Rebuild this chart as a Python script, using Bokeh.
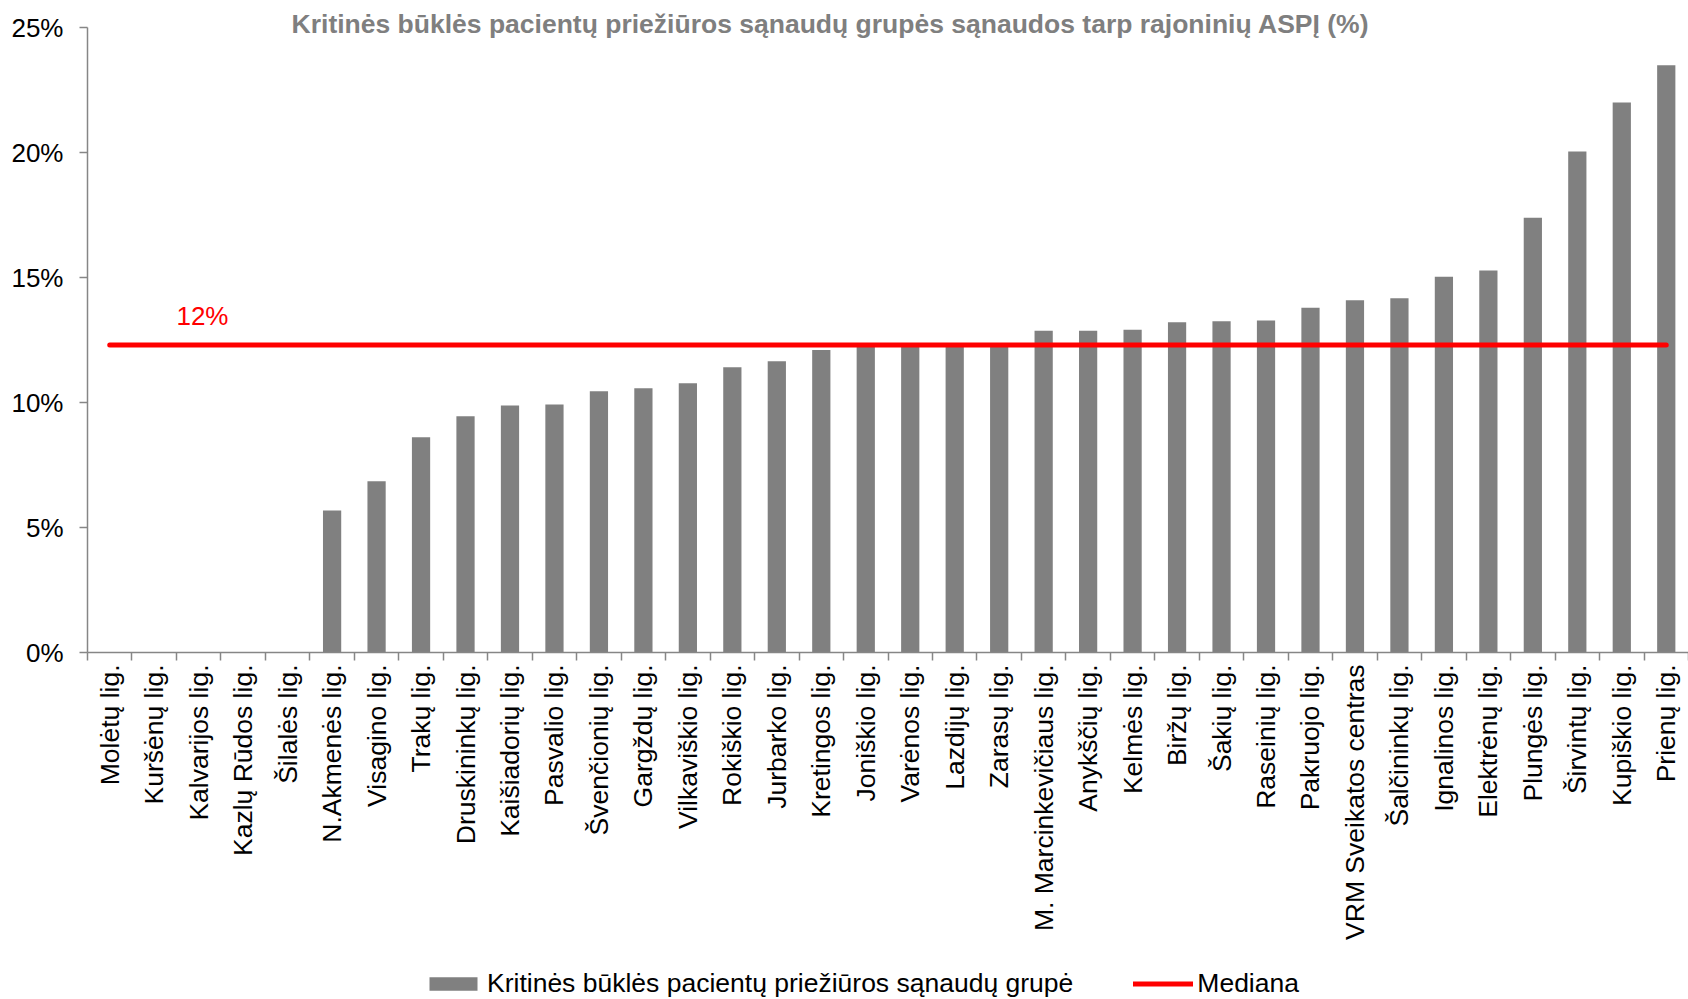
import math
from bokeh.plotting import figure
from bokeh.layouts import column
from bokeh.models import (Range1d, LinearAxis, FixedTicker, Legend, LegendItem, Label, ColumnDataSource)
from bokeh.embed import file_html
from bokeh.resources import INLINE

categories = [
    "Molėtų lig.", "Kuršėnų lig.", "Kalvarijos lig.", "Kazlų Rūdos lig.", "Šilalės lig.",
    "N.Akmenės lig.", "Visagino lig.", "Trakų lig.", "Druskininkų lig.", "Kaišiadorių lig.",
    "Pasvalio lig.", "Švenčionių lig.", "Gargždų lig.", "Vilkaviškio lig.", "Rokiškio lig.",
    "Jurbarko lig.", "Kretingos lig.", "Joniškio lig.", "Varėnos lig.", "Lazdijų lig.",
    "Zarasų lig.", "M. Marcinkevičiaus lig.", "Anykščių lig.", "Kelmės lig.", "Biržų lig.",
    "Šakių lig.", "Raseinių lig.", "Pakruojo lig.", "VRM Sveikatos centras", "Šalčininkų lig.",
    "Ignalinos lig.", "Elektrėnų lig.", "Plungės lig.", "Širvintų lig.", "Kupiškio lig.",
    "Prienų lig.",
]
values = [
    0.0, 0.0, 0.0, 0.0, 0.0,
    5.68, 6.85, 8.61, 9.45, 9.88,
    9.92, 10.45, 10.57, 10.77, 11.41,
    11.65, 12.10, 12.28, 12.32, 12.35,
    12.38, 12.87, 12.87, 12.91, 13.21,
    13.25, 13.28, 13.79, 14.09, 14.17,
    15.03, 15.28, 17.39, 20.04, 22.00,
    23.49,
]
median_value = 12.30
y_ticks = [0, 5, 10, 15, 20, 25]
y_tick_labels = ["0%", "5%", "10%", "15%", "20%", "25%"]
title_text = "Kritinės būklės pacientų priežiūros sąnaudų grupės sąnaudos tarp rajoninių ASPĮ (%)"
bar_series_name = "Kritinės būklės pacientų priežiūros sąnaudų grupė"
median_series_name = "Mediana"

FONT = "Liberation Sans"
AXIS_COLOR = "#868686"
BAR_COLOR = "#808080"
MED_COLOR = "#ff0000"

n = len(categories)
centers = [i + 0.5 for i in range(n)]          # category slots on a numeric scale
bounds = list(range(n + 1))                      # slot boundaries (tick marks)

src = ColumnDataSource(dict(x=centers, top=values, name=categories,
                            med=[median_value] * n))

FRAME_H = 652
AXIS_TOP = y_ticks[-1]
y_end = AXIS_TOP * FRAME_H / 625  # leave room above the axis for the title

p = figure(
    x_range=Range1d(0, n),
    y_range=Range1d(0, y_end),
    frame_width=1601, frame_height=FRAME_H,
    min_border_left=87, min_border_top=0, min_border_right=0, min_border_bottom=311,
    output_backend="svg", toolbar_location=None,
    x_axis_location=None, y_axis_location=None,
    background_fill_color="white", border_fill_color="white",
)
p.outline_line_color = None
p.xgrid.visible = False
p.ygrid.visible = False

# y axis
yax = LinearAxis(ticker=FixedTicker(ticks=y_ticks), bounds=(0, AXIS_TOP))
yax.major_label_overrides = {t: lab for t, lab in zip(y_ticks, y_tick_labels)}
yax.axis_line_color = AXIS_COLOR
yax.axis_line_width = 1.5
yax.major_tick_line_color = AXIS_COLOR
yax.major_tick_line_width = 1.5
yax.major_tick_out = 8
yax.major_tick_in = 0
yax.minor_tick_line_color = None
yax.major_label_text_font = FONT
yax.major_label_text_font_size = "26px"
yax.major_label_text_color = "black"
yax.major_label_standoff = 16
p.add_layout(yax, "left")

# x axis: labels at slot centres, tick marks at slot boundaries (minor ticks)
xax = LinearAxis(ticker=FixedTicker(ticks=centers, minor_ticks=bounds))
xax.major_label_overrides = {c: name for c, name in zip(centers, categories)}
xax.axis_line_color = AXIS_COLOR
xax.axis_line_width = 1.5
xax.major_tick_line_color = None
xax.major_tick_out = 0
xax.major_tick_in = 0
xax.minor_tick_line_color = AXIS_COLOR
xax.minor_tick_line_width = 1.5
xax.minor_tick_out = 8
xax.minor_tick_in = 0
xax.major_label_orientation = math.pi / 2
xax.major_label_text_font = FONT
xax.major_label_text_font_size = "26.5px"
xax.major_label_text_color = "black"
xax.major_label_standoff = 4
p.add_layout(xax, "below")

bars = p.vbar(x="x", top="top", width=0.41, source=src, fill_color=BAR_COLOR, line_color=None)
med = p.line(x="x", y="med", source=src, line_color=MED_COLOR, line_width=5, line_cap="round")

p.add_layout(Label(x=2, y=median_value, x_offset=0, y_offset=29, text=f"{round(median_value)}%",
                   text_font=FONT, text_font_size="26px", text_color=MED_COLOR,
                   text_align="left", text_baseline="alphabetic"))

p.add_layout(Label(x=743, y=629, x_units="screen", y_units="screen", text=title_text,
                   text_font=FONT, text_font_size="26.5px", text_font_style="bold",
                   text_color="#7f7f7f", text_align="center", text_baseline="alphabetic"))

# legend strip below the chart (its swatch renderers use the same data, kept out of view)
lf = figure(width=1688, height=36, x_range=Range1d(0, n), y_range=Range1d(100, 101),
            min_border_left=0, min_border_right=0, min_border_top=0, min_border_bottom=0,
            output_backend="svg", toolbar_location=None,
            x_axis_location=None, y_axis_location=None,
            background_fill_color="white", border_fill_color="white")
lf.outline_line_color = None
lf.xgrid.visible = False
lf.ygrid.visible = False
leg_bar = lf.vbar(x="x", top="top", width=0.41, source=src, fill_color=BAR_COLOR, line_color=None)
leg_med = lf.line(x="x", y="med", source=src, line_color=MED_COLOR, line_width=5, line_cap="round")

legend = Legend(
    items=[LegendItem(label=bar_series_name, renderers=[leg_bar]),
           LegendItem(label=median_series_name, renderers=[leg_med])],
    orientation="horizontal", location=(336, 0),
    padding=0, margin=0, spacing=60,
    border_line_color=None, background_fill_alpha=0,
    glyph_width=60, glyph_height=17, label_height=26, label_standoff=4,
    label_text_font=FONT, label_text_font_size="26.5px", label_text_color="black",
)
lf.add_layout(legend, "center")

layout = column(p, lf, spacing=0)
open("out.html", "w").write(file_html(layout, INLINE))
